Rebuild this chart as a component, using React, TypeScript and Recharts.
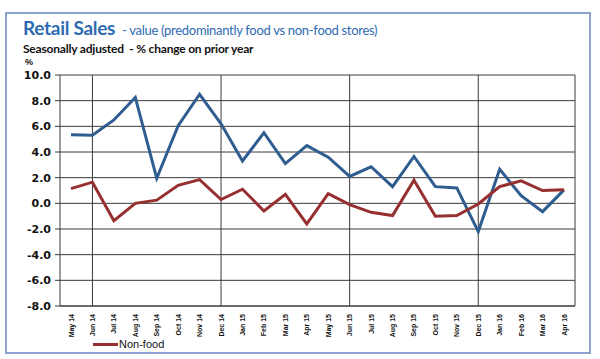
import { LineChart, Line, XAxis, YAxis, CartesianGrid, ReferenceLine } from 'recharts'

const months = [
  'May 14', 'Jun 14', 'Jul 14', 'Aug 14', 'Sep 14', 'Oct 14', 'Nov 14', 'Dec 14',
  'Jan 15', 'Feb 15', 'Mar 15', 'Apr 15', 'May 15', 'Jun 15', 'Jul 15', 'Aug 15',
  'Sep 15', 'Oct 15', 'Nov 15', 'Dec 15', 'Jan 16', 'Feb 16', 'Mar 16', 'Apr 16',
]

const food = [
  5.35, 5.3, 6.5, 8.25, 1.95, 6.05, 8.5, 6.2, 3.3, 5.5, 3.1, 4.5,
  3.6, 2.1, 2.85, 1.3, 3.65, 1.3, 1.2, -2.2, 2.65, 0.6, -0.65, 1.05,
]

const nonFood = [
  1.15, 1.65, -1.35, 0.0, 0.25, 1.4, 1.85, 0.3, 1.1, -0.6, 0.7, -1.6,
  0.75, -0.1, -0.7, -0.95, 1.8, -1.0, -0.95, -0.05, 1.3, 1.75, 1.0, 1.05,
]

const yTicks = [-8, -6, -4, -2, 0, 2, 4, 6, 8, 10]
const halfYearMarks = ['Jun 14', 'Dec 14', 'Jun 15', 'Dec 15']

const data = months.map((m, i) => ({ month: m, food: food[i], nonFood: nonFood[i] }))

const BLUE = '#2f5d8f'
const RED = '#962f30'
const GRID = '#3a3a3a'

function MonthTick(props: any) {
  const { x, y, payload } = props
  return (
    <text
      x={0}
      y={0}
      transform={`translate(${x + 2.5},${y}) rotate(-90)`}
      textAnchor="end"
      fontSize={7}
      fontWeight="bold"
      fontFamily="'Liberation Sans', Arial, sans-serif"
      fill="#111"
    >
      {payload.value}
    </text>
  )
}

export default function App() {
  return (
    <div style={{ position: 'absolute', left: 0, top: 0, width: 600, height: 359, background: '#fff', overflow: 'hidden' }}>
      <div
        style={{
          position: 'absolute',
          left: 5,
          top: 12,
          width: 582,
          height: 338,
          border: '2px solid #8ea2cf',
        }}
      />
      <div style={{ position: 'absolute', left: 23, top: 16, whiteSpace: 'nowrap', fontFamily: "Lato, 'Open Sans', sans-serif", color: '#2e6bb3' }}>
        <span style={{ fontSize: 19, fontWeight: 'bold', letterSpacing: -0.3 }}>Retail Sales</span>
        <span style={{ fontSize: 13, marginLeft: 7, letterSpacing: -0.3 }}>- value (predominantly food vs non-food stores)</span>
      </div>
      <div style={{ position: 'absolute', left: 23, top: 41, whiteSpace: 'nowrap', fontFamily: "Lato, 'Open Sans', sans-serif", fontSize: 12, fontWeight: 'bold', color: '#111', letterSpacing: -0.2 }}>
        Seasonally adjusted&nbsp;&nbsp;- % change on prior year
      </div>
      <div style={{ position: 'absolute', left: 25, top: 57, fontFamily: "'Liberation Sans', Arial, sans-serif", fontSize: 9, fontWeight: 'bold', color: '#111' }}>
        %
      </div>
      <div style={{ position: 'absolute', left: 0, top: 0 }}>
        <LineChart width={600} height={359} data={data} margin={{ top: 75, right: 24, bottom: 52, left: 0 }}>
          <CartesianGrid vertical={false} stroke={GRID} strokeWidth={1} />
          <XAxis
            dataKey="month"
            interval={0}
            height={1}
            padding={{ left: 11, right: 11 }}
            tick={<MonthTick />}
            tickLine={false}
            axisLine={{ stroke: GRID }}
          />
          <YAxis
            domain={[-8, 10]}
            ticks={yTicks}
            width={60}
            tickFormatter={(v: number) => v.toFixed(1)}
            tickSize={5}
            tickMargin={4}
            tick={{ fill: '#111', fontSize: 11, fontWeight: 'bold', fontFamily: "'DejaVu Sans', sans-serif" }}
            tickLine={{ stroke: GRID }}
            axisLine={{ stroke: GRID }}
          />
          <YAxis
            yAxisId="frame"
            orientation="right"
            width={1}
            tick={false}
            tickLine={false}
            axisLine={{ stroke: GRID }}
          />
          {halfYearMarks.map((m) => (
            <ReferenceLine key={m} x={m} stroke={GRID} strokeWidth={1} />
          ))}
          <Line
            type="linear"
            dataKey="food"
            name="Food"
            stroke={BLUE}
            strokeWidth={3}
            dot={false}
            isAnimationActive={false}
          />
          <Line
            type="linear"
            dataKey="nonFood"
            name="Non-food"
            stroke={RED}
            strokeWidth={3}
            dot={false}
            isAnimationActive={false}
          />
        </LineChart>
      </div>
      <div
        style={{
          position: 'absolute',
          left: 93,
          top: 338,
          display: 'flex',
          alignItems: 'center',
          fontFamily: "'Liberation Sans', Arial, sans-serif",
          fontSize: 11,
          color: '#111',
        }}
      >
        <div style={{ width: 25, height: 3, background: RED, marginRight: 1 }} />
        <span>Non-food</span>
      </div>
    </div>
  )
}
